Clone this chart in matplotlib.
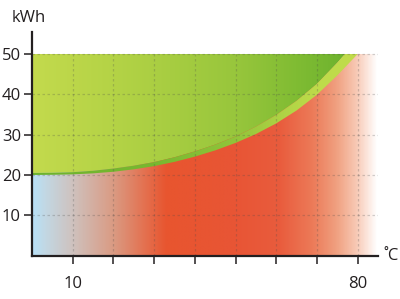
import numpy as np
import matplotlib

matplotlib.use('Agg')  # no display
import matplotlib.pyplot as plt
from matplotlib.colors import LinearSegmentedColormap
from matplotlib.patches import Polygon

plt.rcParams['font.family'] = ['Open Sans', 'DejaVu Sans']

# temperature (°C) and the two edges of the green band (kWh)
temps = [0, 5, 10, 15, 20, 25, 30, 35, 40, 45, 50, 55, 60, 65, 70, 75, 80]
kwh_low = [20.0, 20.05, 20.15, 20.4, 20.8, 21.4, 22.2, 23.25, 24.55, 26.1, 27.95,
           30.15, 32.8, 36.0, 39.9, 44.7, 50.0]
kwh_high = [20.5, 20.55, 20.7, 21.05, 21.6, 22.3, 23.2, 24.4, 25.85, 27.55, 29.55,
            32.0, 34.9, 38.4, 42.6, 47.85, 53.6]

x_ticks = [10, 20, 30, 40, 50, 60, 70, 80]
x_labels = ['10', '', '', '', '', '', '', '80']
y_ticks = [10, 20, 30, 40, 50]

X_MAX = 85
Y_TOP = 50

# colour stops (temperature, colour)
red_stops = [(0, '#b8e0f6'), (3, '#c2d8e4'), (10, '#cfc1bd'), (20, '#da9a82'),
             (27, '#e37454'), (33, '#e8552f'), (50, '#e85535'), (61, '#e95c3d'),
             (69, '#ec7a58'), (75, '#f0a080'), (80, '#f8cab6'), (85, '#ffffff')]
green_stops = [(0, '#c3da4d'), (20, '#b4d346'), (50, '#98c63c'), (65, '#80bc33'),
               (78, '#6cb22e'), (85, '#6cb22e')]
band_stops = [(0, '#6db42d'), (30, '#78b830'), (50, '#92c43a'), (62, '#b0d445'),
              (70, '#bedb4a'), (85, '#c2dc4b')]


def gradient(ax, stops, clip=None, zorder=1):
    cmap = LinearSegmentedColormap.from_list('g', [(p / X_MAX, c) for p, c in stops])
    img = ax.imshow(np.linspace(0, 1, 600)[None, :], cmap=cmap, aspect='auto',
                    extent=(0, X_MAX, 0, Y_TOP), origin='lower',
                    interpolation='bilinear', zorder=zorder)
    if clip is not None:
        poly = Polygon(clip, closed=True, transform=ax.transData,
                       facecolor='none', edgecolor='none')
        img.set_clip_path(poly)
    return img


fig = plt.figure(figsize=(4, 2.99), dpi=100)
ax = fig.add_axes([32 / 400, 43.4 / 299, 346 / 400, 223.7 / 299])

# red / blue background
gradient(ax, red_stops, zorder=1)

# green area above the band
green_poly = list(zip(temps, kwh_high)) + [(temps[-1], 60), (0, 60)]
gradient(ax, green_stops, clip=green_poly, zorder=2)

# band between the two edges
band_poly = list(zip(temps, kwh_low)) + list(zip(temps[::-1], kwh_high[::-1]))
gradient(ax, band_stops, clip=band_poly, zorder=3)

# dashed grid
grid_kw = dict(colors='#4a4a4a', alpha=0.25, linewidth=0.9,
               linestyles=(0, (2, 2)), zorder=4)
ax.vlines(x_ticks, 0, Y_TOP, **grid_kw)
ax.hlines(y_ticks, 0, X_MAX, **grid_kw)

ax.set_xlim(0, X_MAX)
ax.set_ylim(0, 55.5)

for s in ['top', 'right']:
    ax.spines[s].set_visible(False)
for s in ['left', 'bottom']:
    ax.spines[s].set_linewidth(1.6)
    ax.spines[s].set_color('#231f20')
    ax.spines[s].set_zorder(5)

ax.set_xticks(x_ticks)
ax.set_xticklabels(x_labels)
ax.set_yticks(y_ticks)
ax.tick_params(axis='both', colors='#231f20', labelcolor='#231f20',
               width=1.1, length=6, labelsize=12)
ax.tick_params(axis='x', pad=9)
ax.tick_params(axis='y', pad=2)

fig.text(29 / 400, 1 - 18.5 / 299, 'kWh', ha='center', va='center',
         fontsize=12, color='#231f20')
fig.text(383 / 400, 1 - 256 / 299, '˚C', ha='left', va='center',
         fontsize=12, color='#231f20')

plt.savefig('out.png', dpi=100)
plt.close()
